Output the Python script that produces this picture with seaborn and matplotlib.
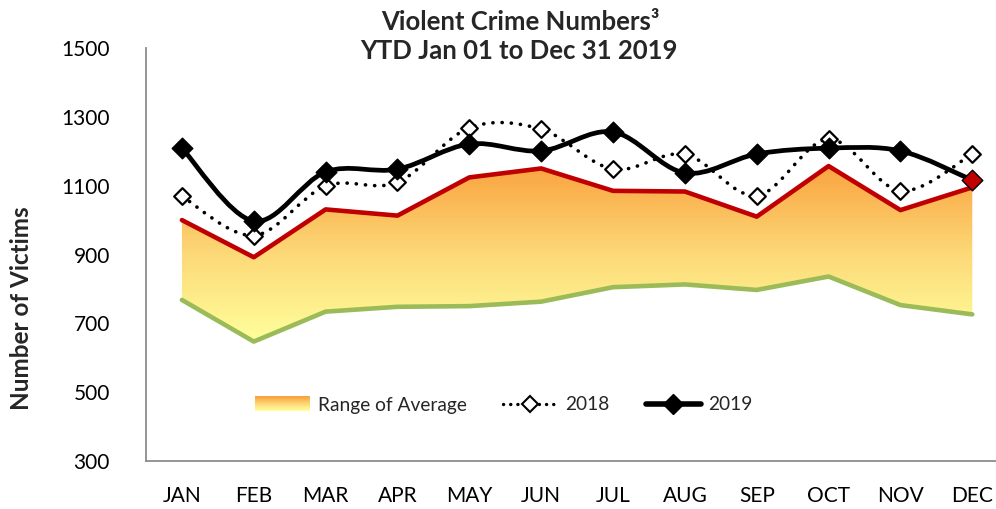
"""
Violent Crime Numbers chart - seaborn / matplotlib
"""
import numpy as np
import matplotlib
matplotlib.use('Agg')
import matplotlib.pyplot as plt
import seaborn as sns
from matplotlib.path import Path
from matplotlib.patches import PathPatch, Rectangle
from matplotlib.colors import LinearSegmentedColormap
from matplotlib.lines import Line2D
from matplotlib.legend_handler import HandlerBase

# data
months = ['JAN', 'FEB', 'MAR', 'APR', 'MAY', 'JUN', 'JUL', 'AUG', 'SEP', 'OCT', 'NOV', 'DEC']
avg_upper = [1000, 892, 1031, 1013, 1124, 1150, 1085, 1083, 1010, 1157, 1029, 1095]
avg_lower = [768, 647, 734, 748, 750, 763, 805, 813, 797, 836, 753, 726]
y2018 = [1069, 955, 1099, 1110, 1268, 1264, 1148, 1191, 1071, 1235, 1085, 1192]
y2019 = [1209, 997, 1140, 1148, 1221, 1201, 1256, 1137, 1192, 1209, 1201, 1116]
yticks = [300, 500, 700, 900, 1100, 1300, 1500]

sns.set_theme(style='white')
plt.rcParams['font.family'] = ['Lato', 'DejaVu Sans']

FONT = 15


def smooth_path(xs, ys):
    """Excel style smoothed line as a cubic bezier path"""
    pts = np.column_stack([xs, ys]).astype(float)
    n = len(pts)
    verts = [pts[0]]
    codes = [Path.MOVETO]
    for i in range(n - 1):
        p0 = pts[max(i - 1, 0)]
        p1 = pts[i]
        p2 = pts[i + 1]
        p3 = pts[min(i + 2, n - 1)]
        c1 = p1 + (p2 - p0) / 6.0
        c2 = p2 - (p3 - p1) / 6.0
        verts += [c1, c2, p2]
        codes += [Path.CURVE4] * 3
    return Path(verts, codes)


class GradientHandler(HandlerBase):
    def __init__(self, cmap, **kw):
        super().__init__(**kw)
        self.cmap = cmap

    def create_artists(self, legend, orig_handle, xdescent, ydescent,
                       width, height, fontsize, trans):
        arts = []
        steps = 20
        h = height * 1.1
        y0 = -ydescent - height * 0.05
        for k in range(steps):
            r = Rectangle((-xdescent, y0 + h * k / steps), width, h / steps + 0.3,
                          facecolor=self.cmap(k / (steps - 1)), edgecolor='none',
                          transform=trans)
            arts.append(r)
        return arts


fig = plt.figure(figsize=(9.96, 5.09), dpi=100)
ax = fig.add_axes([146 / 996, (509 - 461) / 509, 850 / 996, 413 / 509])

x = np.arange(len(months))
xmin, xmax = -0.5, 11.33

# gradient fill between average bounds
cmap = LinearSegmentedColormap.from_list('avg', ['#FFFF9C', '#FDD877', '#F9A33F'])
grad = np.linspace(0, 1, 256).reshape(-1, 1)
img = ax.imshow(grad, extent=[xmin, xmax, 650, 1160], origin='lower',
                aspect='auto', cmap=cmap, zorder=1)
band = ax.fill_between(x, avg_lower, avg_upper, facecolor='none', edgecolor='none')
clip = band.get_paths()[0]
img.set_clip_path(clip, transform=ax.transData)

sns.lineplot(x=x, y=avg_upper, ax=ax, color='#C00000', lw=3.3, zorder=3)
sns.lineplot(x=x, y=avg_lower, ax=ax, color='#9BBB59', lw=3.3, zorder=3)

# 2018 dotted smoothed
p18 = PathPatch(smooth_path(x, y2018), fill=False, edgecolor='black', lw=2.6,
                linestyle=(0, (0.05, 2.5)), capstyle='round', zorder=4)
ax.add_patch(p18)
sns.scatterplot(x=x, y=y2018, ax=ax, marker='D', s=72, facecolor='white',
                edgecolor='black', linewidth=1.6, zorder=5)

# 2019 solid smoothed
p19 = PathPatch(smooth_path(x, y2019), fill=False, edgecolor='black', lw=3.4,
                capstyle='round', zorder=6)
ax.add_patch(p19)
sns.scatterplot(x=x[:-1], y=y2019[:-1], ax=ax, marker='D', s=110, color='black',
                edgecolor='black', linewidth=1, zorder=7)
sns.scatterplot(x=x[-1:], y=y2019[-1:], ax=ax, marker='D', s=110, color='#C00000',
                edgecolor='black', linewidth=1, zorder=8)

ax.set_xlim(xmin, xmax)
ax.set_ylim(300, 1500)
ax.set_xticks(x)
ax.set_xticklabels(months, fontsize=FONT)
ax.set_yticks(yticks)
ax.set_yticklabels([str(v) for v in yticks], fontsize=FONT)
ax.tick_params(axis='both', length=0, colors='black')
ax.tick_params(axis='y', pad=26)
ax.tick_params(axis='x', pad=18)
for side in ['top', 'right']:
    ax.spines[side].set_visible(False)
for side in ['left', 'bottom']:
    ax.spines[side].set_color('#8C8C8C')
    ax.spines[side].set_linewidth(1.3)
ax.set_xlabel('')
ax.set_ylabel('Number of Victims', fontsize=17.5, fontweight='bold')
ax.yaxis.set_label_coords(-0.133, 0.37)
ax.grid(False)

# legend
h_avg = Rectangle((0, 0), 1, 1)
h18 = Line2D([], [], color='black', lw=2.4, linestyle=(0, (0.05, 2.1)),
             dash_capstyle='round', marker='D', markersize=8.5,
             markerfacecolor='white', markeredgewidth=1.5)
h19 = Line2D([], [], color='black', lw=4, marker='D', markersize=10,
             markerfacecolor='black')
leg = ax.legend([h_avg, h18, h19], ['Range of Average', '2018', '2019'],
                handler_map={Rectangle: GradientHandler(cmap)},
                ncol=3, frameon=False, fontsize=13.8, loc='center',
                bbox_to_anchor=((504 - 146) / 850, (461 - 405) / 413),
                handlelength=2.85, handletextpad=0.4, columnspacing=1.9)

# title
fig.text(520 / 996, 1 - 22 / 509, 'Violent Crime Numbers\u00b3', ha='center', va='center',
         fontsize=18.5, fontweight='bold')
fig.text(519 / 996, 1 - 51 / 509, 'YTD Jan 01 to Dec 31 2019', ha='center', va='center',
         fontsize=18.5, fontweight='bold')

fig.savefig('out.png', dpi=100)
